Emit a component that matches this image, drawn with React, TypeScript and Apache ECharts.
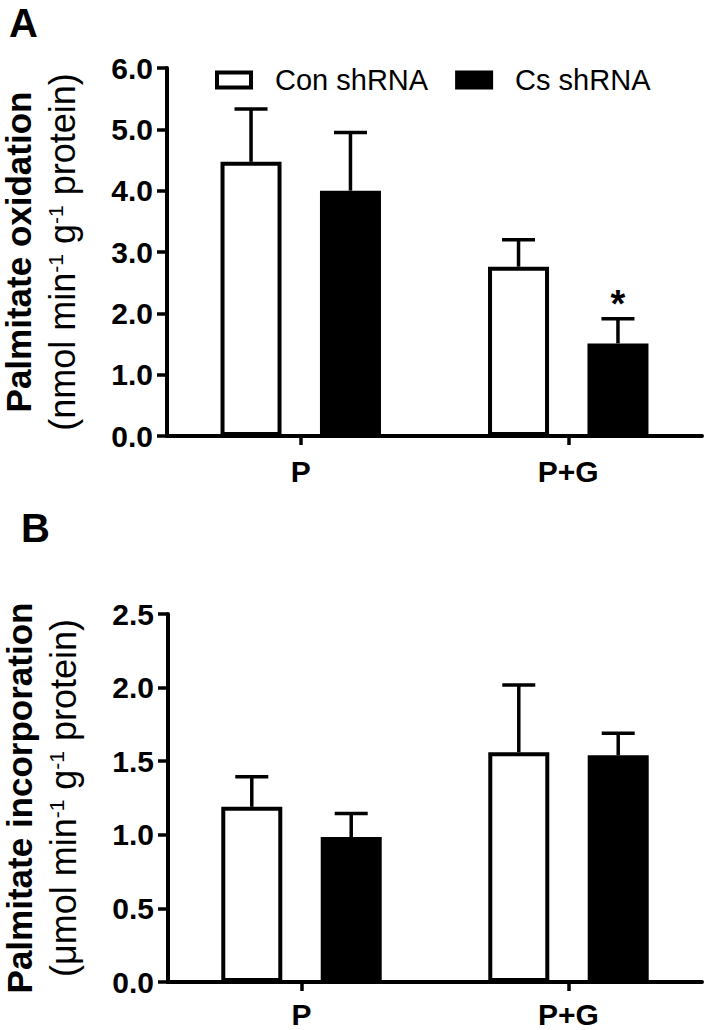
import React, { useEffect, useRef } from 'react';
import * as echarts from 'echarts';

const categories = ['P', 'P+G'];
const seriesNames = ['Con shRNA', 'Cs shRNA'];

// Panel A: palmitate oxidation
const oxidationCon = [4.47, 2.76];
const oxidationConSem = [0.86, 0.44];
const oxidationCs = [4.0, 1.51];
const oxidationCsSem = [0.95, 0.4];
const oxidationCsSig = ['', '*'];

// Panel B: palmitate incorporation
const incorporationCon = [1.19, 1.56];
const incorporationConSem = [0.205, 0.457];
const incorporationCs = [0.985, 1.54];
const incorporationCsSem = [0.16, 0.15];

const FONT = '"Liberation Sans", Arial, Helvetica, sans-serif';
const BAR_W = 61;
const BAR_GAP = 0.63;
const HALF = (BAR_W * (1 + BAR_GAP)) / 2;

function errSeries(name: string, means: number[], sems: number[], side: number, gi: number, sig?: string[]) {
  return {
    type: 'custom',
    name,
    xAxisIndex: gi,
    yAxisIndex: gi,
    z: 5,
    encode: { x: 0, y: 1 },
    data: means.map((m, i) => [i, m, sems[i]]),
    renderItem: (params: any, api: any) => {
      const idx = api.value(0);
      const mean = api.value(1);
      const sem = api.value(2);
      const base = api.coord([idx, mean]);
      const top = api.coord([idx, mean + sem]);
      const x = base[0] + side * HALF;
      const children: any[] = [
        { type: 'line', shape: { x1: x, y1: base[1], x2: x, y2: top[1] }, style: { stroke: '#000', lineWidth: 3.5 } },
        { type: 'line', shape: { x1: x - 16.5, y1: top[1], x2: x + 16.5, y2: top[1] }, style: { stroke: '#000', lineWidth: 3.5 } },
      ];
      const s = sig ? sig[params.dataIndex] : '';
      if (s) {
        children.push({
          type: 'text',
          x,
          y: top[1] - 15,
          style: { text: s, fill: '#000', font: `bold 38px ${FONT}`, align: 'center', verticalAlign: 'middle' },
        });
      }
      return { type: 'group', children };
    },
  };
}

function barSeries(name: string, data: number[], fill: string, gi: number) {
  return {
    type: 'bar',
    name,
    xAxisIndex: gi,
    yAxisIndex: gi,
    data,
    barWidth: BAR_W,
    barGap: `${BAR_GAP * 100}%`,
    itemStyle: { color: fill, borderColor: '#000', borderWidth: 4 },
  };
}

function yAxis(gi: number, max: number, interval: number, nameText: string) {
  return {
    type: 'value',
    gridIndex: gi,
    min: 0,
    max,
    interval,
    axisLine: { show: true, lineStyle: { color: '#000', width: 4 } },
    axisTick: { show: true, length: 10, lineStyle: { color: '#000', width: 3.5 } },
    splitLine: { show: false },
    axisLabel: {
      formatter: (v: number) => v.toFixed(1),
      fontSize: 30,
      fontWeight: 'bold',
      color: '#000',
      fontFamily: FONT,
      margin: 14,
    },
    name: nameText,
    nameLocation: 'middle',
    nameGap: 88,
    nameRotate: 90,
    nameMoveOverlap: false,
    nameTextStyle: {
      fontFamily: FONT,
      color: '#000',
      rich: {
        b: { fontSize: 35, fontWeight: 'bold', fontFamily: FONT, color: '#000', lineHeight: 53 },
        n: { fontSize: 36, fontFamily: FONT, color: '#000', lineHeight: 34 },
        s: { fontSize: 21, fontFamily: FONT, color: '#000', verticalAlign: 'top' },
      },
    },
  };
}

function xAxis(gi: number, margin: number) {
  return {
    type: 'category',
    gridIndex: gi,
    data: categories,
    axisLine: { show: true, lineStyle: { color: '#000', width: 4 } },
    axisTick: { show: true, alignWithLabel: true, length: 9, lineStyle: { color: '#000', width: 3.5 } },
    axisLabel: { fontSize: 30, fontWeight: 'bold', color: '#000', fontFamily: FONT, margin, lineHeight: 24, interval: 0 },
    splitLine: { show: false },
  };
}

export default function App() {
  const ref = useRef<HTMLDivElement>(null);
  useEffect(() => {
    if (!ref.current) return;
    const chart = echarts.init(ref.current, null, { renderer: 'svg' });
    chart.setOption({
      animation: false,
      backgroundColor: '#fff',
      grid: [
        { left: 167, right: 21, top: 68, height: 368, outerBoundsMode: 'none', containLabel: false },
        { left: 168, right: 21, top: 614, height: 368, outerBoundsMode: 'none', containLabel: false },
      ],
      legend: {
        data: seriesNames,
        left: 215,
        top: 65,
        padding: 0,
        itemWidth: 34,
        itemHeight: 15,
        itemGap: 27,
        icon: 'rect',
        itemStyle: { borderWidth: 4, borderColor: '#000' },
        textStyle: { fontSize: 29, fontFamily: FONT, color: '#000', padding: [0, 0, 0, 19], lineHeight: 30 },
        selectedMode: false,
      },
      xAxis: [xAxis(0, 23), xAxis(1, 20)],
      yAxis: [
        yAxis(0, 6, 1, '{b|Palmitate oxidation}\n{n|(nmol min}{s|-1}{n| g}{s|-1}{n| protein)}'),
        yAxis(1, 2.5, 0.5, '{b|Palmitate incorporation}\n{n|(\u03bcmol min}{s|-1}{n| g}{s|-1}{n| protein)}'),
      ],
      graphic: [
        { type: 'text', left: 9, top: 3, style: { text: 'A', font: `bold 40px ${FONT}`, fill: '#000' } },
        { type: 'text', left: 21, top: 508, style: { text: 'B', font: `bold 40px ${FONT}`, fill: '#000' } },
      ],
      series: [
        barSeries(seriesNames[0], oxidationCon, '#fff', 0),
        barSeries(seriesNames[1], oxidationCs, '#000', 0),
        errSeries('errConA', oxidationCon, oxidationConSem, -1, 0),
        errSeries('errCsA', oxidationCs, oxidationCsSem, 1, 0, oxidationCsSig),
        barSeries(seriesNames[0], incorporationCon, '#fff', 1),
        barSeries(seriesNames[1], incorporationCs, '#000', 1),
        errSeries('errConB', incorporationCon, incorporationConSem, -1, 1),
        errSeries('errCsB', incorporationCs, incorporationCsSem, 1, 1),
      ],
    });
    return () => chart.dispose();
  }, []);
  return <div ref={ref} style={{ position: 'absolute', left: 0, top: 0, width: 723, height: 1030 }} />;
}
